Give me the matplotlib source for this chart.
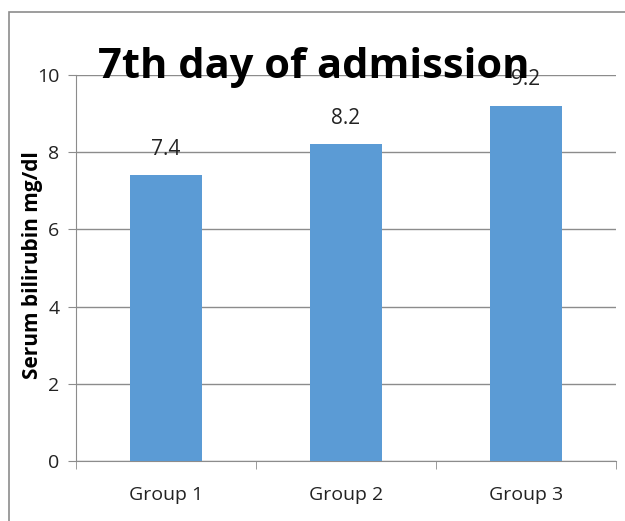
import matplotlib.pyplot as plt
from matplotlib.patches import Rectangle
from matplotlib.ticker import FixedLocator, NullFormatter
import numpy as np

groups = ["Group 1", "Group 2", "Group 3"]
bilirubin = [7.4, 8.2, 9.2]

fig = plt.figure(figsize=(6.25, 5.21), dpi=100)
ax = fig.add_axes([76 / 625, 1 - 461 / 521, 540 / 625, 386 / 521])

# outer chart frame (only left and top edges fall inside the image)
fig.patches.append(Rectangle((9 / 625, -0.1), 1.5, 1 - 12 / 521 + 0.1,
                             transform=fig.transFigure, fill=False,
                             edgecolor="#8c8c8c", linewidth=1.2))

pos = np.arange(len(groups))
ax.bar(pos, bilirubin, width=0.4, color="#5B9BD5", zorder=3)
for x, v in zip(pos, bilirubin):
    ax.text(x, v + 0.4, str(v), ha="center", va="bottom",
            fontsize=15, family="Open Sans", color="#222222")

ax.set_xlim(-0.5, 2.5)
ax.set_ylim(0, 10)
ax.set_yticks([0, 2, 4, 6, 8, 10])
ax.grid(axis="y", color="#8c8c8c", linewidth=1, zorder=0)
ax.set_axisbelow(True)

ax.set_xticks(pos)
ax.set_xticklabels(groups, fontsize=14, family="Open Sans", color="#222222")
ax.tick_params(axis="x", length=0, pad=18)
ax.xaxis.set_minor_locator(FixedLocator([-0.5, 0.5, 1.5, 2.5]))
ax.xaxis.set_minor_formatter(NullFormatter())
ax.tick_params(axis="x", which="minor", length=6, color="#8c8c8c")
ax.tick_params(axis="y", length=6, color="#8c8c8c", labelsize=14,
               labelcolor="#222222", pad=6)
for lbl in ax.get_yticklabels():
    lbl.set_family("Open Sans")

for s in ["top", "right"]:
    ax.spines[s].set_visible(False)
ax.spines["left"].set_color("#8c8c8c")
ax.spines["bottom"].set_color("#8c8c8c")

fig.text(33 / 625, 1 - 265 / 521, "Serum bilirubin mg/dl", rotation=90,
         ha="center", va="center", fontsize=15, fontweight="bold",
         family="Open Sans")
fig.text(314 / 625, 1 - 78 / 521, "7th day of admission", ha="center",
         va="baseline", fontsize=30, fontweight="bold", family="Open Sans")

fig.savefig("out.png", dpi=100)
